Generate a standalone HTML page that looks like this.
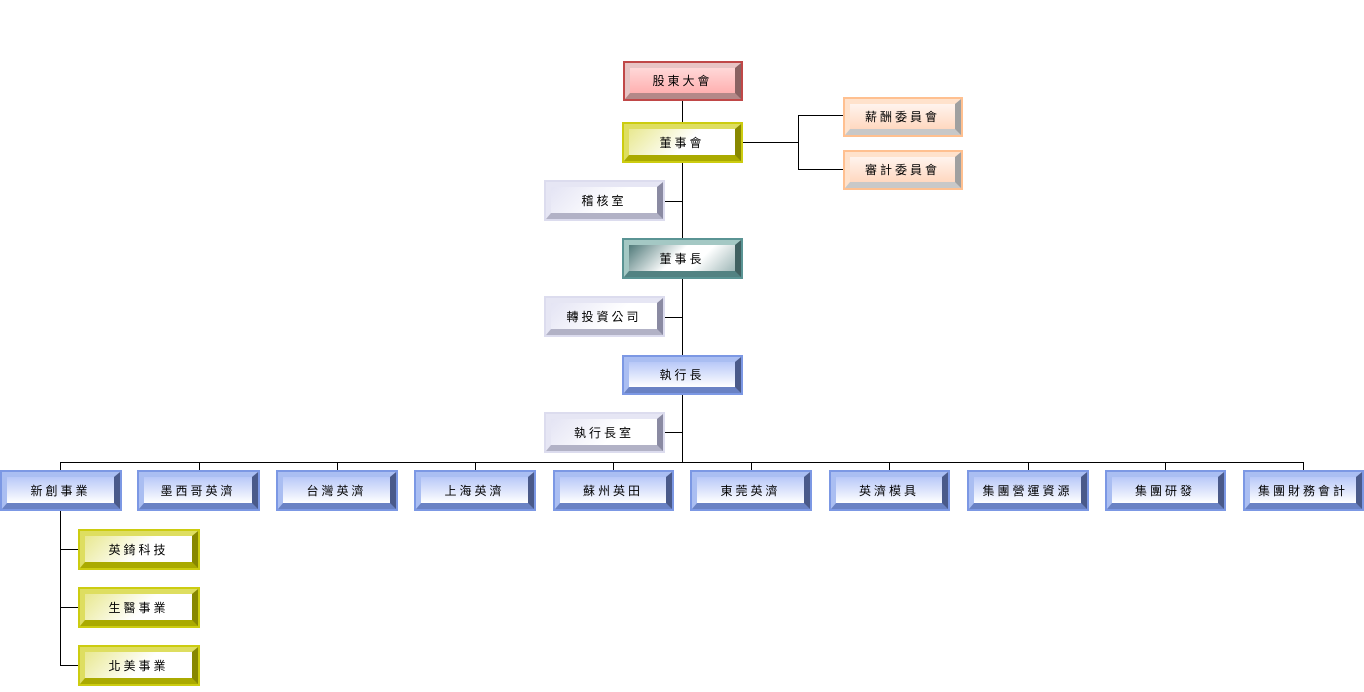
<!DOCTYPE html>
<html><head><meta charset="utf-8"><style>
body{margin:0;width:1364px;height:692px;background:#fff;position:relative;overflow:hidden;font-family:"Liberation Sans","Noto Sans CJK TC",sans-serif;}
.b{position:absolute;box-sizing:border-box;border:2px solid;}
.b>div{position:absolute;inset:0;border-style:solid;border-width:5px 6px 6px 5px;display:flex;align-items:center;justify-content:center;font-size:12px;letter-spacing:3px;color:#000;}
.r{border-color:#c04848}.r>div{border-color:#e8c4c4 #8a6262 #b48888 #e8c4c4;background:linear-gradient(#ffd8d8,#ffb0b0)}
.y{border-color:#cccc10}.y>div{border-color:#dede60 #888800 #aaaa00 #dede60;background:linear-gradient(135deg,#e8e890,#fff 55%,#fff)}
.l{border-color:#dcdcee}.l>div{border-color:#e6e6f4 #8a8aa2 #b2b2c6 #e6e6f4;background:linear-gradient(135deg,#e4e4f4,#fff 60%)}
.t{border-color:#5a9494}.t>div{border-color:#a4c8c4 #406060 #528282 #a4c8c4;background:linear-gradient(135deg,#507a7a,#fff 45%,#fff 65%,#a0b8b8)}
.u{border-color:#7c98e4}.u>div{border-color:#aabef2 #4a5a8a #6a82c4 #aabef2;background:linear-gradient(#b8c8f8,#fff)}
.p{border-color:#ffc090}.p>div{border-color:#ffe2cc #a0a0a0 #c8c8c8 #ffe2cc;background:linear-gradient(#fff4ee,#ffd8c0)}
.h,.v{position:absolute;background:#000}
.h{height:1px}.v{width:1px}
</style></head><body>
<!-- lines -->
<div class="v" style="left:682px;top:101px;height:361px"></div>
<div class="h" style="left:60px;top:462px;width:1244px"></div>
<div class="h" style="left:742px;top:142px;width:56px"></div>
<div class="v" style="left:798px;top:115px;height:55px"></div>
<div class="h" style="left:798px;top:115px;width:45px"></div>
<div class="h" style="left:798px;top:169px;width:45px"></div>
<div class="h" style="left:664px;top:201px;width:18px"></div>
<div class="h" style="left:664px;top:317px;width:18px"></div>
<div class="h" style="left:664px;top:432px;width:18px"></div>
<div class="v" style="left:60px;top:462px;height:9px"></div>
<div class="v" style="left:199px;top:462px;height:9px"></div>
<div class="v" style="left:337px;top:462px;height:9px"></div>
<div class="v" style="left:475px;top:462px;height:9px"></div>
<div class="v" style="left:613px;top:462px;height:9px"></div>
<div class="v" style="left:751px;top:462px;height:9px"></div>
<div class="v" style="left:889px;top:462px;height:9px"></div>
<div class="v" style="left:1028px;top:462px;height:9px"></div>
<div class="v" style="left:1165px;top:462px;height:9px"></div>
<div class="v" style="left:1303px;top:462px;height:9px"></div>
<div class="v" style="left:60px;top:511px;height:155px"></div>
<div class="h" style="left:60px;top:549px;width:18px"></div>
<div class="h" style="left:60px;top:607px;width:18px"></div>
<div class="h" style="left:60px;top:665px;width:18px"></div>
<!-- boxes -->
<div class="b r" style="left:623px;top:61px;width:120px;height:40px"><div>股東大會</div></div>
<div class="b y" style="left:622px;top:122px;width:121px;height:41px"><div>董事會</div></div>
<div class="b p" style="left:843px;top:97px;width:120px;height:40px"><div>薪酬委員會</div></div>
<div class="b p" style="left:843px;top:150px;width:120px;height:40px"><div>審計委員會</div></div>
<div class="b l" style="left:544px;top:180px;width:121px;height:41px"><div>稽核室</div></div>
<div class="b t" style="left:622px;top:238px;width:121px;height:41px"><div>董事長</div></div>
<div class="b l" style="left:544px;top:296px;width:121px;height:41px"><div>轉投資公司</div></div>
<div class="b u" style="left:622px;top:355px;width:121px;height:40px"><div>執行長</div></div>
<div class="b l" style="left:544px;top:412px;width:121px;height:41px"><div>執行長室</div></div>
<div class="b u" style="left:0px;top:470px;width:122px;height:41px"><div>新創事業</div></div>
<div class="b u" style="left:137px;top:470px;width:123px;height:41px"><div>墨西哥英濟</div></div>
<div class="b u" style="left:276px;top:470px;width:122px;height:41px"><div>台灣英濟</div></div>
<div class="b u" style="left:414px;top:470px;width:122px;height:41px"><div>上海英濟</div></div>
<div class="b u" style="left:553px;top:470px;width:121px;height:41px"><div>蘇州英田</div></div>
<div class="b u" style="left:690px;top:470px;width:122px;height:41px"><div>東莞英濟</div></div>
<div class="b u" style="left:829px;top:470px;width:121px;height:41px"><div>英濟模具</div></div>
<div class="b u" style="left:967px;top:470px;width:122px;height:41px"><div>集團營運資源</div></div>
<div class="b u" style="left:1105px;top:470px;width:121px;height:41px"><div>集團研發</div></div>
<div class="b u" style="left:1243px;top:470px;width:121px;height:41px"><div>集團財務會計</div></div>
<div class="b y" style="left:78px;top:529px;width:122px;height:41px"><div>英錡科技</div></div>
<div class="b y" style="left:78px;top:587px;width:122px;height:41px"><div>生醫事業</div></div>
<div class="b y" style="left:78px;top:645px;width:122px;height:41px"><div>北美事業</div></div>
</body></html>
